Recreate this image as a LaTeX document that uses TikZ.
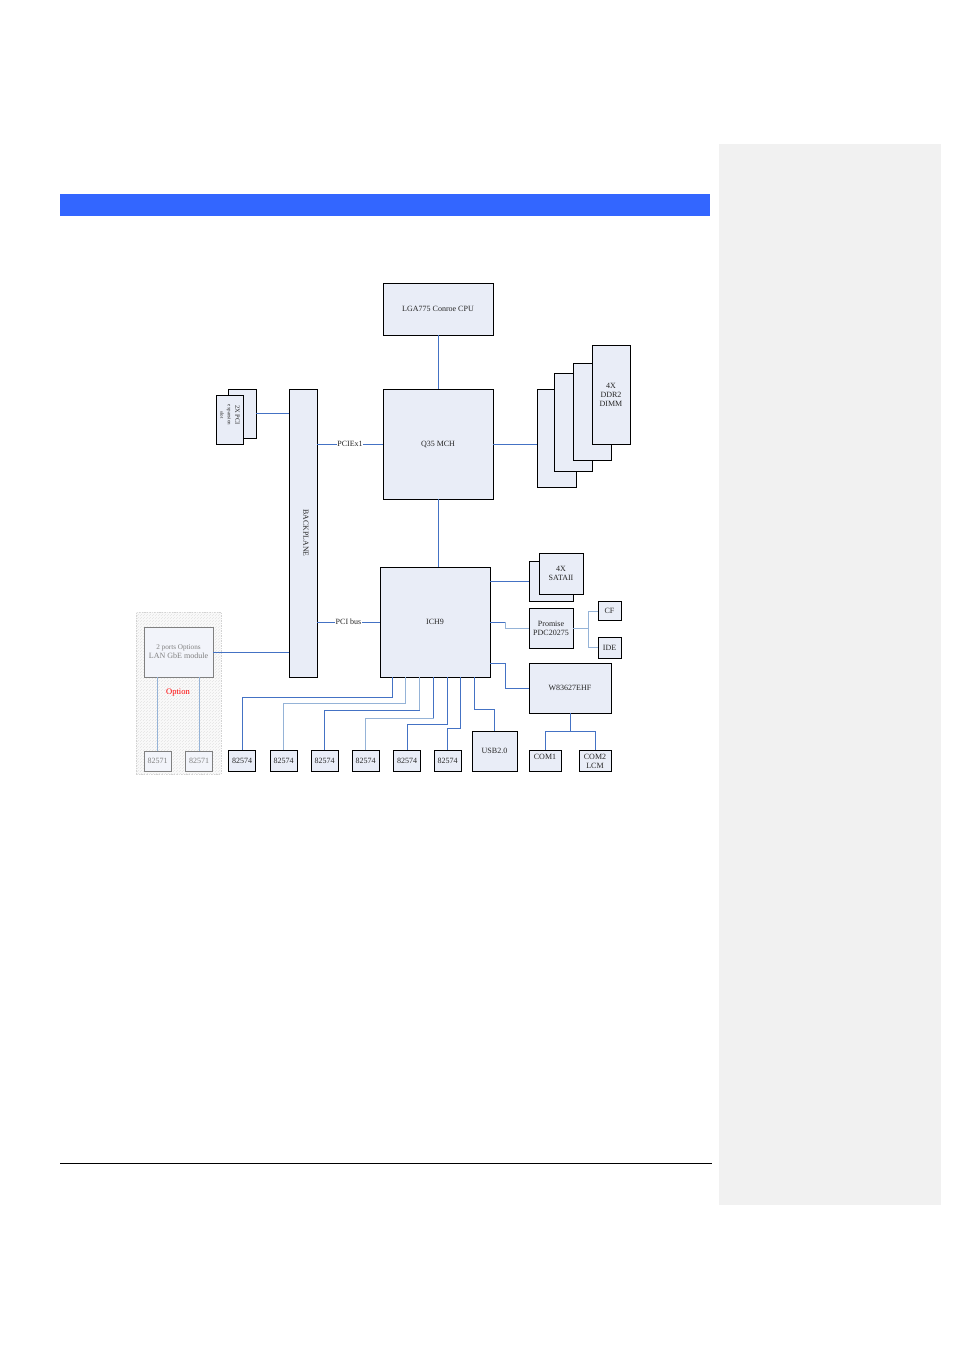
\documentclass[tikz,border=0pt]{standalone}
\usepackage{fontspec}
\setmainfont{Liberation Serif}
\usetikzlibrary{patterns}

\definecolor{boxfill}{RGB}{233,237,247}
\definecolor{busblue}{RGB}{68,114,196}
\definecolor{lightbus}{RGB}{149,179,215}
\definecolor{barblue}{RGB}{51,102,255}
\definecolor{panelgray}{RGB}{241,241,241}

\begin{document}
\begin{tikzpicture}[x=1pt,y=-1pt,
  blk/.style={draw=black, line width=0.9pt, fill=boxfill, inner sep=0pt, align=center,
    text=black!85, font=\fontsize{8}{9}\selectfont},
  nic/.style={blk, minimum width=27, minimum height=21},
  optblk/.style={draw=gray, line width=0.8pt, fill=boxfill!60, inner sep=0pt, align=center,
    text=gray, font=\fontsize{8}{9}\selectfont},
  link/.style={busblue, line width=0.9pt},
  faint/.style={lightbus, line width=0.9pt},
  buslabel/.style={fill=white, inner sep=0.6pt, text=black!85, font=\fontsize{8}{8}\selectfont}]
\useasboundingbox (0,0) rectangle (954,1350);

% page
\fill [panelgray] (719,144) rectangle (941,1205);
\fill [barblue] (60,194) rectangle (710,216);
\draw [line width=1pt] (60,1163) -- (712,1163);

% north bridge side
\node [blk, minimum width=110, minimum height=52] (cpu) at (438,309) {LGA775 Conroe CPU};
\node [blk, minimum width=110, minimum height=110] (mch) at (438,444) {Q35 MCH};

\node [blk, minimum width=39, minimum height=98] (dimmA) at (556.5,438) {};
\node [blk, minimum width=38, minimum height=98] (dimmB) at (573,422) {};
\node [blk, minimum width=38, minimum height=97] (dimmC) at (592,411.5) {};
\node [blk, minimum width=38, minimum height=99] (dimmD) at (611,394.5) {4X\\DDR2\\DIMM};

\node [blk, minimum width=28, minimum height=288] (bp) at (303,533) {};
\node [rotate=-90, text=black!85, font=\fontsize{7.8}{8}\selectfont] (bplabel) at (306,533) {BACKPLANE};

\node [blk, minimum width=28, minimum height=49] (slotB) at (242,413.5) {};
\node [blk, minimum width=27, minimum height=49] (slotA) at (229.5,419.5) {};
\node [rotate=-90, align=center, text=black!85, font=\fontsize{6.5}{7.5}\selectfont] (slotlabel) at (230,415)
  {2X PCI\\{\fontsize{5}{7.5}\selectfont expansion}\\{\fontsize{5}{7.5}\selectfont slot}};

% south bridge side
\node [blk, minimum width=110, minimum height=110] (ich) at (435,622) {ICH9};

\node [blk, minimum width=44, minimum height=40] (sataB) at (551,581) {};
\node [blk, minimum width=44, minimum height=41] (sataA) at (561,573.5) {4X\\SATAII};
\node [blk, minimum width=44, minimum height=40] (prom) at (551,628) {Promise\\PDC20275};
\node [blk, minimum width=23, minimum height=19] (cf) at (609.5,611) {CF};
\node [blk, minimum width=23, minimum height=21] (ide) at (609.5,647.5) {IDE};
\node [blk, minimum width=82, minimum height=50] (sio) at (570,688) {W83627EHF};
\node [blk, minimum width=32, minimum height=21] (com1) at (545,761) {COM1\\\phantom{L}};
\node [blk, minimum width=32, minimum height=21] (com2) at (595,761) {COM2\\LCM};
\node [blk, minimum width=45, minimum height=40] (usb) at (494.5,751) {USB2.0};

\node [nic] (nic1) at (242,760.5) {82574};
\node [nic] (nic2) at (283.5,760.5) {82574};
\node [nic] (nic3) at (324.5,760.5) {82574};
\node [nic] (nic4) at (365.5,760.5) {82574};
\node [nic] (nic5) at (407,760.5) {82574};
\node [nic] (nic6) at (447.5,760.5) {82574};

% option area
\node [draw=gray!35, dash pattern=on 1.5pt off 1pt, fill=gray!4, minimum width=85, minimum height=162,
  postaction={pattern=north east lines, pattern color=gray!22}] (optarea) at (178.5,693) {};
\node [optblk, minimum width=69, minimum height=50] (lan) at (178.5,652)
  {{\fontsize{7.2}{8}\selectfont 2 ports Options}\\LAN GbE module};
\node [text=red, font=\fontsize{8.5}{9}\selectfont] (optlabel) at (178,693) {Option};
\node [optblk, minimum width=27, minimum height=20] (opt1) at (157.5,761) {82571};
\node [optblk, minimum width=27, minimum height=20] (opt2) at (199,761) {82571};

% buses
\draw [link] (cpu) -- (mch);
\draw [link] (mch.east) -- (mch.east -| dimmA.west);
\draw [link] (bp.east |- mch.west) -- node [buslabel] (pcie) {PCIEx1} (mch.west);
\draw [link] (bp.east |- ich.west) -- node [buslabel] (pcibus) {PCI bus} (ich.west);
\draw [link] (mch) -- (mch |- ich.north);
\draw [link] (slotB.east) -- (slotB.east -| bp.west);
\draw [link] (lan.east) -- (lan.east -| bp.west);

\draw [link] (sataB.west -| ich.east) -- (sataB.west);
\draw [link] (ich.east) -- ++(15,0) coordinate (pk);
\draw [faint] (pk) |- (prom.west);
\draw [faint] (prom.east) -- ++(15,0) coordinate (pj) |- (cf.west);
\draw [faint] (pj) |- (ide.west);
\draw [link] ([yshift=14pt]ich.south east) -- ++(15,0) |- (sio.west);
\draw [link] (sio.south) -- ++(0,18) coordinate (sj) -| (com1.north);
\draw [link] (sj) -| (com2.north);
\draw [link] ([xshift=-16pt]ich.south east) -- ++(0,32) -| (usb.north);

\draw [link] ([xshift=13pt]ich.south west) -- ++(0,20) -| (nic1.north);
\draw [faint] ([xshift=26pt]ich.south west) -- ++(0,26) -| (nic2.north);
\draw [faint] ([xshift=40pt]ich.south west) -- ++(0,33) coordinate (q3);
\draw [link] (q3) -| (nic3.north);
\draw [link] ([xshift=54pt]ich.south west) -- ++(0,41) coordinate (q4);
\draw [faint] (q4) -| (nic4.north);
\draw [link] ([xshift=68pt]ich.south west) -- ++(0,47) -| (nic5.north);
\draw [link] ([xshift=81pt]ich.south west) -- ++(0,51) -| (nic6.north);

\draw [faint] (opt1.north) -- (opt1.north |- lan.south);
\draw [faint] (opt2.north) -- (opt2.north |- lan.south);

\end{tikzpicture}
\end{document}
